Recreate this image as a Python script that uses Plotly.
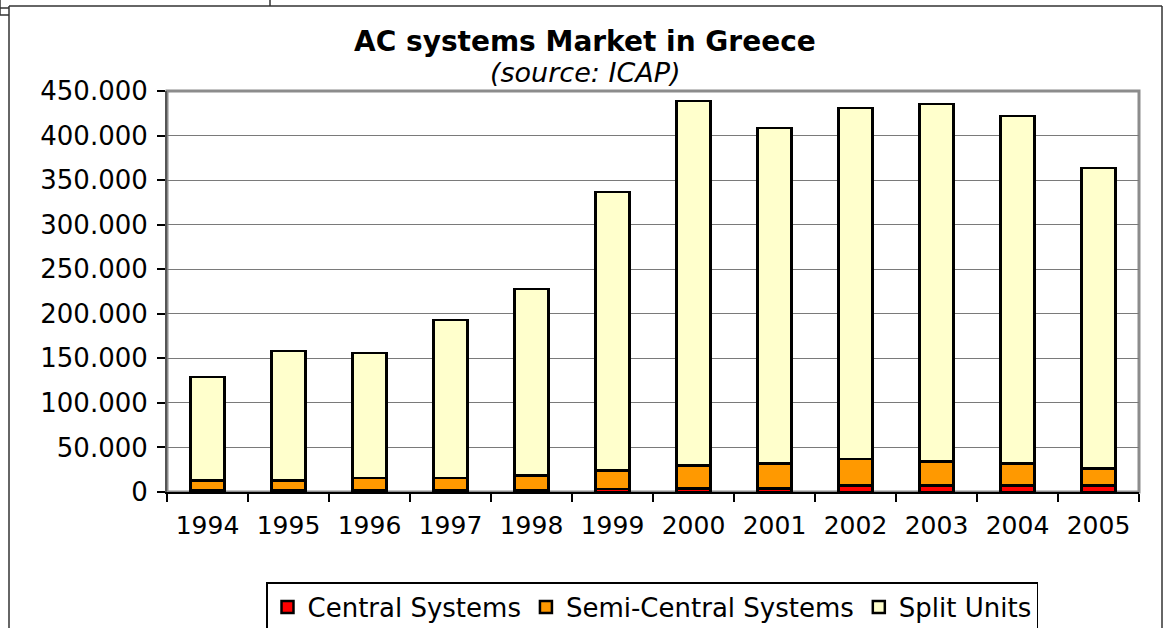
import plotly.graph_objects as go

years = ["1994", "1995", "1996", "1997", "1998", "1999", "2000", "2001", "2002", "2003", "2004", "2005"]
central = [2500, 2500, 2500, 2500, 2500, 3500, 4000, 4000, 7500, 7500, 7500, 7500]
semi_central = [10500, 10500, 13200, 13300, 16200, 20500, 25500, 27800, 29500, 26900, 24300, 19100]
split_units = [116000, 145200, 140300, 177200, 209100, 312600, 409200, 376600, 393800, 400900, 390100, 336900]
y_ticks = [0, 50000, 100000, 150000, 200000, 250000, 300000, 350000, 400000, 450000]

FONT = "DejaVu Sans, Verdana, sans-serif"

fig = go.Figure()
for name, vals, color in [
    ("Central Systems", central, "#FF0000"),
    ("Semi-Central Systems", semi_central, "#FF9900"),
    ("Split Units", split_units, "#FFFFCC"),
]:
    fig.add_trace(go.Bar(
        x=years, y=vals, name=name,
        marker=dict(color=color, line=dict(color="#000000", width=2.5)),
        width=0.42,
    ))

W, H = 1165, 628
ml, mr, mt, mb = 167, 26, 91, 136
pw, ph = W - ml - mr, H - mt - mb

def px(x):
    return (x - ml) / pw

def py(y):
    return (H - mb - y) / ph

shapes = []
# outer frame lines
for (x0, y0, x1, y1) in [
    (9, 6, 1162, 6),
    (9, 6, 9, 628),
    (1162, 6, 1162, 628),
    (270, 0, 270, 6),
    (0, 8, 9, 8),
    (0, 15, 9, 15),
    (0, 0, 0, 15),
]:
    shapes.append(dict(type="line", xref="paper", yref="paper",
                       x0=px(x0), y0=py(y0), x1=px(x1), y1=py(y1),
                       line=dict(color="#333333", width=1.5)))

fig.update_layout(
    width=W, height=H,
    margin=dict(l=ml, r=mr, t=mt, b=mb, autoexpand=False),
    paper_bgcolor="white", plot_bgcolor="white",
    barmode="stack",
    separators=",.",
    font=dict(family=FONT, color="#000000", size=25),
    showlegend=True,
    legend=dict(
        orientation="h", x=px(652), xanchor="center", y=py(582), yanchor="top",
        font=dict(size=26, family=FONT), traceorder="normal",
        bordercolor="#000000", borderwidth=1.5, bgcolor="white",
        itemwidth=30, tracegroupgap=0,
    ),
    shapes=shapes,
    annotations=[
        dict(text="<b>AC systems Market in Greece</b>", xref="paper", yref="paper",
             x=px(585), y=py(41), xanchor="center", yanchor="middle", showarrow=False,
             font=dict(size=28, family=FONT)),
        dict(text="<i>(source: ICAP)</i>", xref="paper", yref="paper",
             x=px(585), y=py(73), xanchor="center", yanchor="middle", showarrow=False,
             font=dict(size=27, family=FONT)),
    ],
)

fig.update_xaxes(
    type="category", tickson="boundaries", ticks="outside", ticklen=8,
    tickcolor="#000000", tickwidth=1.5,
    showline=True, linecolor="#000000", linewidth=1.5, mirror=False,
    showgrid=False, tickfont=dict(size=25, family=FONT), ticklabelstandoff=10,
)
fig.update_yaxes(
    range=[0, 450000], tickvals=y_ticks, tickformat=",d",
    ticks="outside", ticklen=8, tickcolor="#000000", tickwidth=1.5,
    showline=True, linecolor="#555555", linewidth=2, mirror=False,
    showgrid=True, gridcolor="#7a7a7a", gridwidth=1.3,
    zeroline=False, tickfont=dict(size=26, family=FONT), ticklabelstandoff=4,
)
fig.add_shape(type="rect", xref="paper", yref="paper", x0=0, y0=0, x1=1, y1=1,
              line=dict(color="#8c8c8c", width=3), layer="below")

fig.write_html("out.html")
